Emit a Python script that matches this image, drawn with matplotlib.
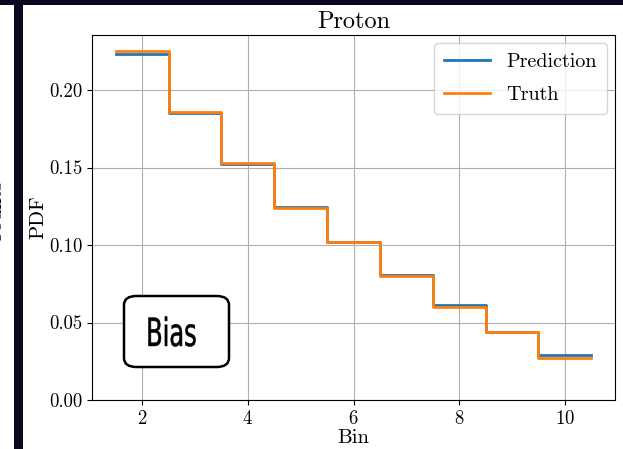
import numpy as np
import matplotlib.pyplot as plt
from matplotlib.patches import FancyBboxPatch, Rectangle, PathPatch
from matplotlib.textpath import TextPath
from matplotlib.font_manager import FontProperties
from matplotlib.transforms import Affine2D, IdentityTransform

plt.rcParams['font.family'] = 'serif'
plt.rcParams['font.serif'] = ['cmr10']
plt.rcParams['mathtext.fontset'] = 'cm'
plt.rcParams['axes.formatter.use_mathtext'] = True

bins = [2, 3, 4, 5, 6, 7, 8, 9, 10]
prediction = [0.2234, 0.1850, 0.1521, 0.1245, 0.1022, 0.0807, 0.0613, 0.0441, 0.0292]
truth = [0.2254, 0.1857, 0.1529, 0.1237, 0.1020, 0.0803, 0.0602, 0.0437, 0.0273]

edges = np.append(np.array(bins) - 0.5, bins[-1] + 0.5)

W, H = 623, 449
fig = plt.figure(figsize=(W / 100, H / 100), dpi=100)
ax = fig.add_axes([92 / W, 49 / H, 523 / W, 365 / H])

ax.step(edges, np.append(prediction, prediction[-1]), where='post', color='#1f77b4', lw=2, label='Prediction')
ax.step(edges, np.append(truth, truth[-1]), where='post', color='#ff7f0e', lw=2, label='Truth')

ax.set_ylim(0, 0.2355)
ax.set_xticks([2, 4, 6, 8, 10])
ax.set_yticks([0.0, 0.05, 0.10, 0.15, 0.20])
ax.set_yticklabels(['0.00', '0.05', '0.10', '0.15', '0.20'])
ax.tick_params(labelsize=13.5)
ax.grid(True, color='#b0b0b0', lw=0.8)
ax.set_xlabel('Bin', fontsize=15, labelpad=1)
ax.set_ylabel('PDF', fontsize=15, labelpad=1)
ax.set_title('Proton', fontsize=17.5, pad=5)
ax.legend(loc='upper right', fontsize=14.5, handlelength=2.3, borderaxespad=0.4,
          labelspacing=0.75, borderpad=0.5)

box = FancyBboxPatch((124 / W, (H - 367) / H), 105 / W, 71 / H,
                     boxstyle='round,pad=0,rounding_size=0.02', transform=fig.transFigure,
                     facecolor='white', edgecolor='black', lw=1.8, zorder=5)
fig.add_artist(box)

# condensed "Bias" label
tp = TextPath((0, 0), 'Bias', size=40, prop=FontProperties(family='DejaVu Sans'))
ext = tp.get_extents()
sx, sy = 47 / ext.width, 30 / ext.height
cx, cy = 172, H - 331.5
tr = Affine2D().translate(-(ext.x0 + ext.width / 2), -(ext.y0 + ext.height / 2)).scale(sx, sy).translate(cx, cy)
fig.add_artist(PathPatch(tr.transform_path(tp), transform=IdentityTransform(),
                         facecolor='black', edgecolor='black', lw=0.4, zorder=6))

# screenshot frame
fig.add_artist(Rectangle((0, 1 - 5 / H), 1, 5 / H, transform=fig.transFigure, color='#0c0720', lw=0))
fig.add_artist(Rectangle((14 / W, 0), 9 / W, 1, transform=fig.transFigure, color='#0c0720', lw=0))
fig.text(5 / W, (H - 211) / H, 'Counts', rotation=90, fontsize=15, ha='right', va='center')

fig.savefig('out.png', dpi=100)
